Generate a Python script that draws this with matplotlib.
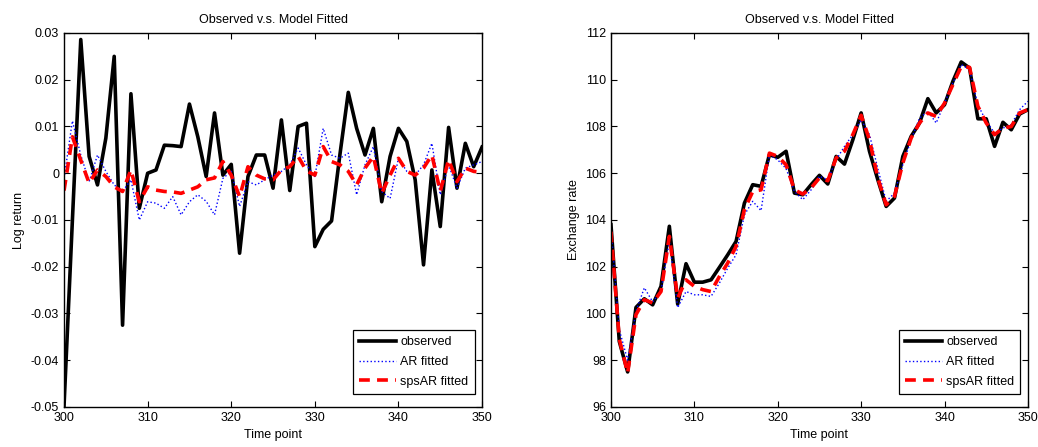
import matplotlib.pyplot as plt
import numpy as np

plt.rcParams['font.family'] = ['Liberation Sans', 'DejaVu Sans']

t = np.arange(300, 351)

# log returns (left panel)
ret_obs = [-0.0497, -0.0100, 0.0286, 0.0036, -0.0025, 0.0075, 0.0250, -0.0325, 0.0170, -0.0075,
           0.0000, 0.0007, 0.0060, 0.0059, 0.0057, 0.0148, 0.0078, -0.0007, 0.0129, -0.0004,
           0.0019, -0.0171, -0.0007, 0.0039, 0.0039, -0.0032, 0.0114, -0.0037, 0.0100, 0.0107,
           -0.0157, -0.0120, -0.0102, 0.0040, 0.0173, 0.0096, 0.0039, 0.0096, -0.0061, 0.0036,
           0.0096, 0.0068, -0.0014, -0.0196, 0.0007, -0.0114, 0.0098, -0.0032, 0.0064, 0.0014,
           0.0056]
ret_ar = [-0.0011, 0.0112, 0.0039, -0.0018, 0.0039, 0.0004, -0.0025, -0.0039, -0.0014, -0.0100,
          -0.0061, -0.0064, -0.0075, -0.0050, -0.0089, -0.0061, -0.0046, -0.0060, -0.0089, -0.0011,
          0.0004, -0.0071, -0.0018, -0.0025, -0.0014, -0.0004, 0.0004, 0.0018, 0.0054, 0.0018,
          -0.0007, 0.0096, 0.0039, 0.0032, 0.0043, -0.0046, 0.0018, 0.0057, -0.0039, -0.0054,
          0.0032, 0.0004, -0.0004, 0.0018, 0.0064, -0.0046, 0.0018, -0.0032, 0.0011, 0.0018,
          0.0025]
ret_sps = [-0.0037, 0.0078, 0.0028, -0.0021, 0.0007, -0.0007, -0.0029, -0.0039, 0.0007, -0.0061,
           -0.0029, -0.0036, -0.0039, -0.0040, -0.0043, -0.0036, -0.0029, -0.0014, -0.0010, 0.0025,
           -0.0004, -0.0050, 0.0014, -0.0004, -0.0012, -0.0014, 0.0007, 0.0014, 0.0036, 0.0005,
           -0.0004, 0.0057, 0.0025, 0.0018, 0.0004, -0.0025, 0.0011, 0.0036, -0.0043, -0.0004,
           0.0032, 0.0004, -0.0004, 0.0011, 0.0039, -0.0039, 0.0029, -0.0018, 0.0011, 0.0004,
           0.0002]

# exchange rate (right panel)
fx_obs = [103.8, 98.8, 97.5, 100.26, 100.63, 100.37, 101.16, 103.73, 100.4, 102.13,
          101.34, 101.34, 101.44, 101.97, 102.51, 103.08, 104.72, 105.51, 105.44, 106.79,
          106.68, 106.94, 105.15, 105.08, 105.51, 105.91, 105.54, 106.72, 106.39, 107.43,
          108.58, 106.94, 105.72, 104.58, 104.94, 106.72, 107.58, 108.15, 109.19, 108.58,
          108.93, 109.93, 110.76, 110.5, 108.33, 108.33, 107.15, 108.18, 107.86, 108.53,
          108.72]
fx_ar = [103.65, 99.3, 98.0, 100.1, 101.1, 100.5, 100.95, 103.1, 100.25, 100.94,
         100.8, 100.8, 100.73, 101.3, 101.94, 102.51, 104.22, 104.8, 104.4, 106.79,
         106.57, 106.2, 105.22, 104.87, 105.29, 105.87, 105.72, 106.57, 107.15, 107.65,
         108.29, 107.65, 106.2, 104.8, 105.15, 106.37, 107.44, 108.36, 108.65, 108.15,
         109.0, 109.86, 110.65, 110.43, 108.93, 108.22, 107.72, 107.93, 108.08, 108.72,
         109.08]
fx_sps = [103.5, 98.9, 97.45, 99.95, 100.59, 100.45, 100.94, 103.3, 100.66, 101.44,
          101.16, 101.02, 100.94, 101.58, 102.16, 102.87, 104.44, 105.22, 105.29, 106.86,
          106.72, 106.36, 105.29, 105.11, 105.37, 105.8, 105.68, 106.65, 106.94, 107.65,
          108.48, 107.43, 105.8, 104.65, 105.01, 106.44, 107.51, 108.15, 108.58, 108.43,
          109.0, 109.79, 110.57, 110.53, 108.86, 108.15, 107.65, 107.93, 108.0, 108.58,
          108.72]

fig = plt.figure(figsize=(10.38, 4.47), dpi=100)
ax1 = fig.add_axes([0.0617, 0.0895, 0.4027, 0.8367])
ax2 = fig.add_axes([0.5886, 0.0895, 0.4017, 0.8367])


def draw(ax, obs, ar, sps, ylim, yticks, ylabels, ylabel):
    ax.plot(t, obs, color='black', lw=2.6, label='observed')
    ax.plot(t, ar, color='blue', lw=1.0, ls=':', label='AR fitted')
    ax.plot(t, sps, color='red', lw=2.6, ls='--', dashes=(3, 2), label='spsAR fitted')
    ax.set_xlim(300, 350)
    ax.set_ylim(*ylim)
    ax.set_xticks([300, 310, 320, 330, 340, 350])
    ax.set_yticks(yticks, ylabels)
    ax.tick_params(direction='in', top=True, right=True, labelsize=9, length=4, width=0.8)
    for s in ax.spines.values():
        s.set_linewidth(1.0)
    ax.set_title('Observed v.s. Model Fitted', fontsize=9, pad=7)
    ax.set_xlabel('Time point', fontsize=9, labelpad=4)
    ax.set_ylabel(ylabel, fontsize=9, labelpad=4)
    leg = ax.legend(loc='lower right', bbox_to_anchor=(0.982, 0.035), fontsize=9,
                    fancybox=False, framealpha=1, edgecolor='black', borderaxespad=0,
                    handlelength=3.0, labelspacing=0.62, handletextpad=0.3, borderpad=0.5)
    leg.get_frame().set_linewidth(0.9)


r_ticks = [-0.05, -0.04, -0.03, -0.02, -0.01, 0, 0.01, 0.02, 0.03]
r_labels = ['-0.05', '-0.04', '-0.03', '-0.02', '-0.01', '0', '0.01', '0.02', '0.03']
draw(ax1, ret_obs, ret_ar, ret_sps, (-0.05, 0.03), r_ticks, r_labels, 'Log return')

f_ticks = list(range(96, 113, 2))
draw(ax2, fx_obs, fx_ar, fx_sps, (96, 112), f_ticks, [str(v) for v in f_ticks], 'Exchange rate')

fig.savefig('out.png', dpi=100)
